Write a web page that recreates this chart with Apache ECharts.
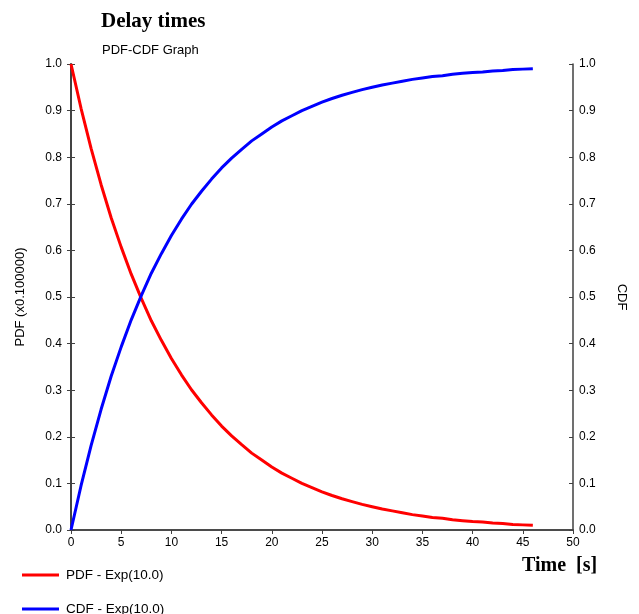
<!DOCTYPE html>
<html>
<head>
<meta charset="utf-8">
<script src="https://cdn.jsdelivr.net/npm/echarts@6/dist/echarts.min.js"></script>
<style>
  html, body { margin: 0; padding: 0; background: #fff; }
  #chart { width: 639px; height: 614px; }
</style>
</head>
<body>
<div id="chart"></div>
<script>
// values (1 s steps)
const timeS = [0, 1, 2, 3, 4, 5, 6, 7, 8, 9, 10, 11, 12, 13, 14, 15, 16, 17, 18, 19, 20, 21, 22, 23,
  24, 25, 26, 27, 28, 29, 30, 31, 32, 33, 34, 35, 36, 37, 38, 39, 40, 41, 42, 43, 44, 45, 46];
const pdfVals = [1.000, 0.905, 0.819, 0.741, 0.670, 0.607, 0.549, 0.497, 0.449, 0.407, 0.368, 0.333,
  0.301, 0.273, 0.247, 0.223, 0.202, 0.183, 0.165, 0.150, 0.135, 0.122, 0.111, 0.100, 0.091, 0.082,
  0.074, 0.067, 0.061, 0.055, 0.050, 0.045, 0.041, 0.037, 0.033, 0.030, 0.027, 0.025, 0.022, 0.020,
  0.018, 0.017, 0.015, 0.014, 0.012, 0.011, 0.010];
const cdfVals = [0.000, 0.095, 0.181, 0.259, 0.330, 0.393, 0.451, 0.503, 0.551, 0.593, 0.632, 0.667,
  0.699, 0.727, 0.753, 0.777, 0.798, 0.817, 0.835, 0.850, 0.865, 0.878, 0.889, 0.900, 0.909, 0.918,
  0.926, 0.933, 0.939, 0.945, 0.950, 0.955, 0.959, 0.963, 0.967, 0.970, 0.973, 0.975, 0.978, 0.980,
  0.982, 0.983, 0.985, 0.986, 0.988, 0.989, 0.990];
const seriesNames = ['PDF - Exp(10.0)', 'CDF - Exp(10.0)'];

const axisCol = '#404040';
const sans = 'Liberation Sans, Arial, sans-serif';
const serif = 'Liberation Serif, Times New Roman, serif';

function pairs(vals) {
  return timeS.map((t, i) => [t, vals[i]]);
}

// ticks cross the axis line, so each axis is drawn twice (outer + inner ticks)
function yAx(pos, inside, labels, name) {
  return {
    type: 'value', position: pos, min: 0, max: 1, interval: 0.1,
    name: name || '', nameLocation: 'middle',
    nameGap: pos === 'left' ? 44 : 42,
    nameRotate: pos === 'left' ? 90 : -90,
    nameTextStyle: { fontFamily: sans, fontSize: 13, color: '#000' },
    splitLine: { show: false },
    axisLine: { show: true, lineStyle: { color: axisCol, width: 1.5 } },
    axisTick: { show: true, inside: inside, length: 4, lineStyle: { color: axisCol } },
    axisLabel: {
      show: labels, margin: pos === 'left' ? 9 : 6,
      fontFamily: sans, fontSize: 12, color: '#000',
      formatter: v => v.toFixed(1)
    }
  };
}

function xAx(inside, labels) {
  return {
    type: 'value', min: 0, max: 50, interval: 5,
    splitLine: { show: false },
    axisLine: { show: true, lineStyle: { color: axisCol, width: 1.5 } },
    axisTick: { show: true, inside: inside, length: 4, lineStyle: { color: axisCol } },
    axisLabel: { show: labels, margin: 7, fontFamily: sans, fontSize: 12, color: '#000' }
  };
}

function legendRow(name, top) {
  return {
    left: 17, top: top, itemWidth: 37, itemHeight: 3, icon: 'rect',
    textStyle: { fontFamily: sans, fontSize: 13.5, color: '#000', padding: [0, 0, 0, 2] },
    data: [name]
  };
}

const chart = echarts.init(document.getElementById('chart'));
chart.setOption({
  animation: false,
  backgroundColor: '#fff',
  title: [
    { text: 'Delay times', left: 96, top: 6,
      textStyle: { fontFamily: serif, fontSize: 21, fontWeight: 'bold', color: '#000' } },
    { text: 'PDF-CDF Graph', left: 97, top: 39,
      textStyle: { fontFamily: sans, fontSize: 13, fontWeight: 'normal', color: '#000' } }
  ],
  grid: { left: 71, right: 66, top: 64, bottom: 84 },
  xAxis: [xAx(false, true), xAx(true, false)],
  yAxis: [
    yAx('left', false, true, 'PDF (x0.100000)'),
    yAx('right', false, true, 'CDF'),
    yAx('left', true, false),
    yAx('right', true, false)
  ],
  legend: [legendRow(seriesNames[0], 563), legendRow(seriesNames[1], 597)],
  graphic: [
    { type: 'text', left: 522, top: 556,
      style: { text: 'Time  [s]', fontFamily: serif, fontSize: 20, fontWeight: 'bold', fill: '#000' } }
  ],
  series: [
    { name: seriesNames[0], type: 'line', xAxisIndex: 0, yAxisIndex: 0,
      data: pairs(pdfVals), showSymbol: false, smooth: false,
      itemStyle: { color: '#ff0000' }, lineStyle: { color: '#ff0000', width: 3 } },
    { name: seriesNames[1], type: 'line', xAxisIndex: 0, yAxisIndex: 1,
      data: pairs(cdfVals), showSymbol: false, smooth: false,
      itemStyle: { color: '#0000ff' }, lineStyle: { color: '#0000ff', width: 3 } }
  ]
});
</script>
</body>
</html>
